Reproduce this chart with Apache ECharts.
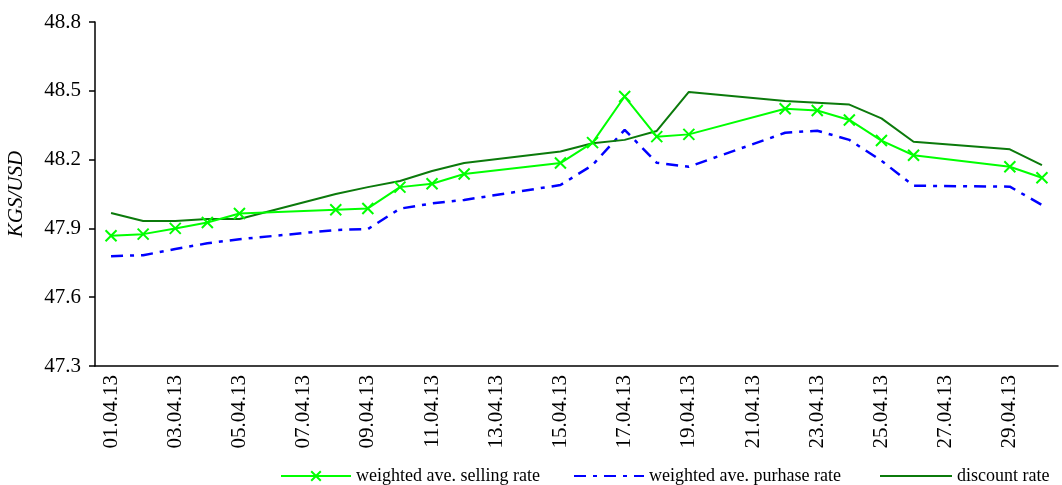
<!DOCTYPE html>
<html>
<head>
<meta charset="utf-8">
<script src="https://cdn.jsdelivr.net/npm/echarts@6/dist/echarts.min.js"></script>
<style>
  html, body { margin: 0; padding: 0; background: #fff; }
  #chart { width: 1062px; height: 485px; }
</style>
</head>
<body>
<div id="chart"></div>
<script>
// Calendar days of April 2013 (one category per day)
const days = [
  '01.04.13','02.04.13','03.04.13','04.04.13','05.04.13','06.04.13','07.04.13','08.04.13','09.04.13','10.04.13',
  '11.04.13','12.04.13','13.04.13','14.04.13','15.04.13','16.04.13','17.04.13','18.04.13','19.04.13','20.04.13',
  '21.04.13','22.04.13','23.04.13','24.04.13','25.04.13','26.04.13','27.04.13','28.04.13','29.04.13','30.04.13'
];

// KGS per USD; null on non-trading days
const sellingRate = [
  47.868, 47.875, 47.900, 47.926, 47.965, null, null, 47.981, 47.987, 48.080,
  48.095, 48.137, null, null, 48.185, 48.274, 48.475, 48.300, 48.310, null,
  null, 48.422, 48.414, 48.373, 48.283, 48.219, null, null, 48.169, 48.121
];
const purchaseRate = [
  47.779, 47.783, 47.810, 47.835, 47.853, null, null, 47.893, 47.897, 47.986,
  48.009, 48.024, null, null, 48.089, 48.176, 48.330, 48.186, 48.169, null,
  null, 48.317, 48.326, 48.286, 48.195, 48.086, null, null, 48.082, 48.002
];
const discountRate = [
  47.967, 47.932, 47.932, 47.941, 47.941, null, null, 48.050, 48.080, 48.107,
  48.150, 48.185, null, null, 48.235, 48.271, 48.286, 48.325, 48.495, null,
  null, 48.456, 48.448, 48.440, 48.380, 48.278, null, null, 48.245, 48.176
];

const seriesNames = ['weighted ave. selling rate', 'weighted ave. purhase rate', 'discount rate'];

const serif = '"Liberation Serif", "DejaVu Serif", serif';
const crossMark = 'path://M0,0L10,10M10,0L0,10';

const chart = echarts.init(document.getElementById('chart'), null, { renderer: 'canvas' });

const legendText = { fontFamily: serif, fontSize: 18, color: '#000' };
// plain line keys (no point marker) for the unmarked series
const plainKey = name => ({ name: name, itemStyle: { opacity: 0 } });

chart.setOption({
  animation: false,
  backgroundColor: '#fff',
  grid: { left: 95, right: 4, top: 22, bottom: 119, containLabel: false, outerBoundsMode: 'none' },
  legend: [
    { data: [seriesNames[0]], left: 280, top: 467, padding: 0, itemWidth: 70, itemHeight: 12, itemGap: 6, textStyle: legendText },
    { data: [plainKey(seriesNames[1])], left: 573, top: 467, padding: 0, itemWidth: 70, itemHeight: 12, itemGap: 6, textStyle: legendText },
    { data: [plainKey(seriesNames[2])], left: 879, top: 467, padding: 0, itemWidth: 72, itemHeight: 12, itemGap: 4, textStyle: legendText }
  ],
  xAxis: {
    type: 'category',
    data: days,
    boundaryGap: true,
    axisLine: { lineStyle: { color: '#000', width: 1.5 } },
    axisTick: { interval: 1, length: 6, lineStyle: { color: '#000', width: 1.5 } },
    axisLabel: {
      interval: 1, rotate: 90, margin: 9,
      fontFamily: serif, fontSize: 21, color: '#000'
    },
    splitLine: { show: false }
  },
  yAxis: {
    type: 'value',
    min: 47.3, max: 48.8, interval: 0.3,
    name: 'KGS/USD',
    nameLocation: 'middle',
    nameRotate: 90,
    nameGap: 68,
    nameTextStyle: { fontFamily: serif, fontSize: 21, fontStyle: 'italic', color: '#000' },
    axisLine: { show: true, lineStyle: { color: '#000', width: 1.5 } },
    axisTick: { show: true, length: 6, lineStyle: { color: '#000', width: 1.5 } },
    axisLabel: {
      margin: 14, fontFamily: serif, fontSize: 21, color: '#000',
      formatter: v => v.toFixed(1)
    },
    splitLine: { show: false }
  },
  series: [
    {
      name: seriesNames[0],
      type: 'line',
      data: sellingRate,
      connectNulls: true,
      symbol: crossMark,
      symbolSize: 11,
      showAllSymbol: true,
      lineStyle: { color: '#00ff00', width: 2 },
      itemStyle: { color: '#00ff00', borderColor: '#00ff00', borderWidth: 2 },
      z: 3
    },
    {
      name: seriesNames[1],
      type: 'line',
      data: purchaseRate,
      connectNulls: true,
      symbol: 'none',
      lineStyle: { color: '#0000ff', width: 2.5, type: [12, 7, 4, 7] },
      itemStyle: { color: '#0000ff' },
      z: 2
    },
    {
      name: seriesNames[2],
      type: 'line',
      data: discountRate,
      connectNulls: true,
      symbol: 'none',
      lineStyle: { color: '#0b7a0b', width: 2 },
      itemStyle: { color: '#0b7a0b' },
      z: 2
    }
  ]
});
</script>
</body>
</html>
